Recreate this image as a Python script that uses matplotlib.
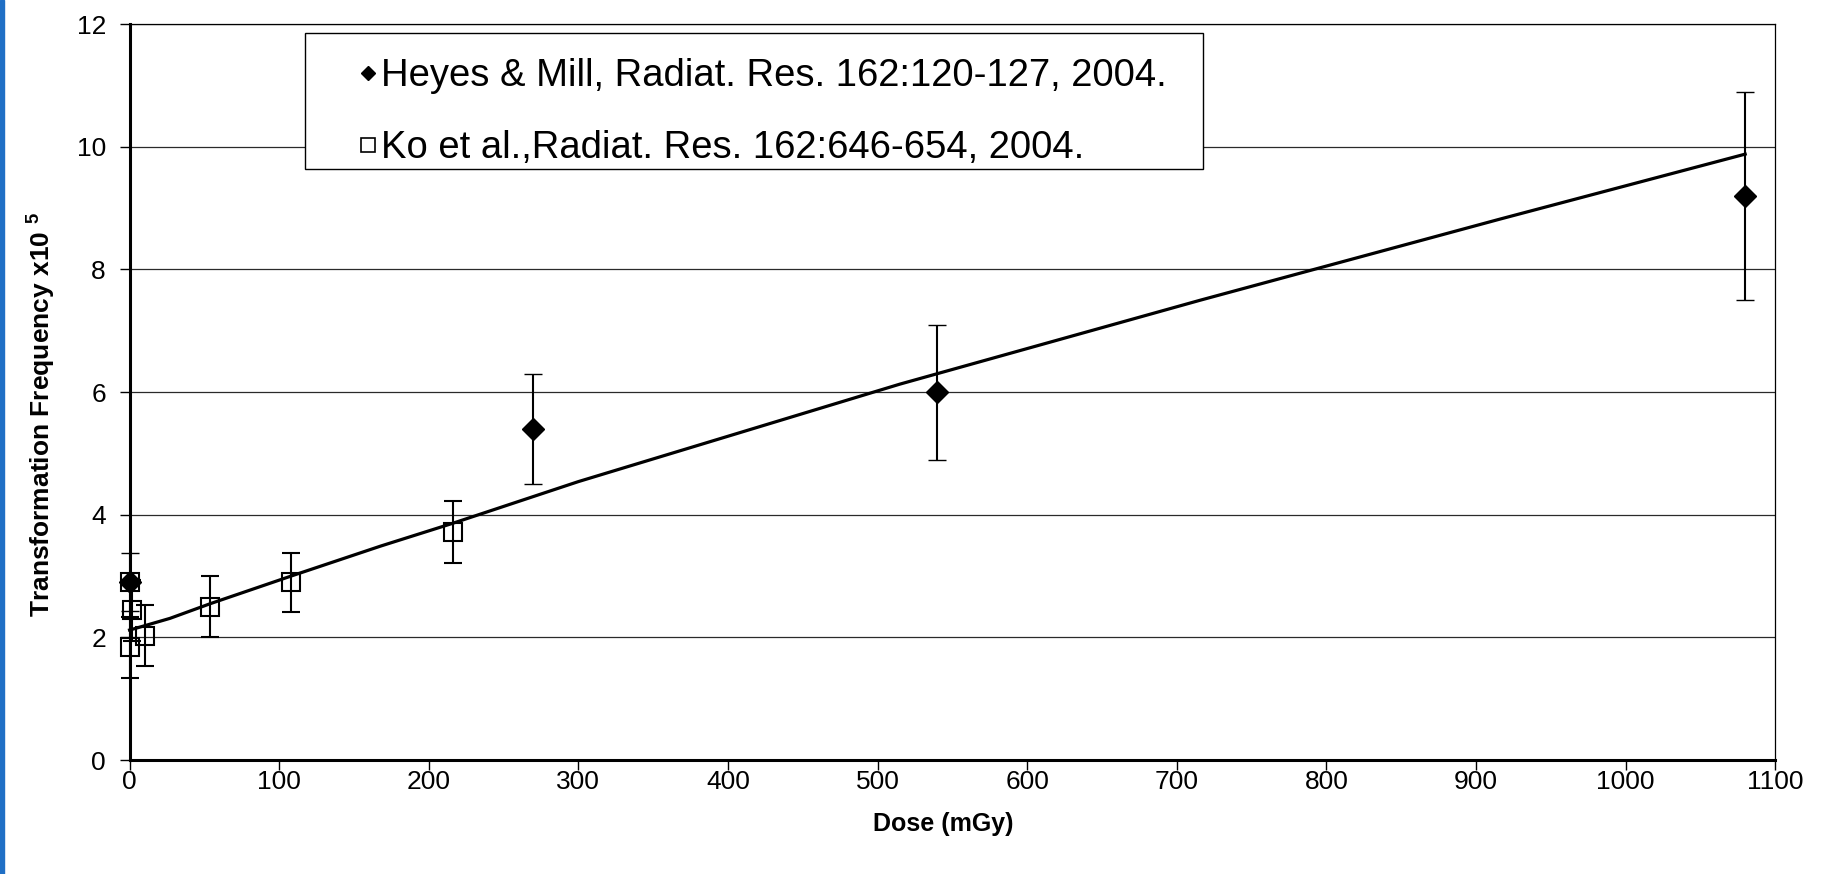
import matplotlib
matplotlib.use('Agg')
import matplotlib.pyplot as plt
from matplotlib.lines import Line2D
from matplotlib.patches import Rectangle

plt.rcParams['font.family'] = ['Liberation Sans', 'DejaVu Sans']
plt.rcParams['mathtext.fontset'] = 'custom'
plt.rcParams['mathtext.rm'] = 'Liberation Sans'
plt.rcParams['mathtext.bf'] = 'Liberation Sans:bold'

# ---- data ----
heyes_dose = [0, 270, 540, 1080]
heyes_tf = [2.9, 5.4, 6.0, 9.2]
heyes_err = [0.47, 0.9, 1.1, 1.7]

ko_dose = [0, 0, 1.9, 10, 54, 108, 216]
ko_tf = [1.84, 2.9, 2.44, 2.03, 2.5, 2.9, 3.72]
ko_err = [0.5, 0.0, 0.5, 0.5, 0.5, 0.48, 0.5]

fit_dose = [0, 3, 27, 54, 108, 168, 216, 300, 515, 716, 916, 1080]
fit_tf = [2.12, 2.14, 2.31, 2.55, 3.0, 3.49, 3.86, 4.54, 6.13, 7.5, 8.82, 9.88]

x_ticks = [0, 100, 200, 300, 400, 500, 600, 700, 800, 900, 1000, 1100]
y_ticks = [0, 2, 4, 6, 8, 10, 12]

heyes_label = 'Heyes & Mill, Radiat. Res. 162:120-127, 2004.'
ko_label = 'Ko et al.,Radiat. Res. 162:646-654, 2004.'

fig = plt.figure(figsize=(18.3, 8.74), dpi=100)
ax = fig.add_axes([0.0708, 0.1304, 0.8992, 0.8420])

ax.set_xlim(0, 1100)
ax.set_ylim(0, 12)
ax.set_xticks(x_ticks)
ax.set_yticks(y_ticks)

ax.grid(axis='y', color='#2a2a2a', lw=0.9, zorder=0)
ax.set_axisbelow(True)

ax.plot(fit_dose, fit_tf, color='black', lw=2.3, zorder=3, clip_on=False)

ax.errorbar(ko_dose, ko_tf, yerr=ko_err, fmt='s', ms=13, mfc='none', mec='black',
            mew=1.5, ecolor='black', elinewidth=1.5, capsize=6.8, capthick=1.5,
            zorder=4, clip_on=False)
ax.errorbar(heyes_dose, heyes_tf, yerr=heyes_err, fmt='D', ms=11, mfc='black', mec='black',
            mew=1, ecolor='black', elinewidth=1.5, capsize=6.8, capthick=1.5,
            zorder=5, clip_on=False)

for s in ['left', 'bottom']:
    ax.spines[s].set_linewidth(2.2)
for s in ['top', 'right']:
    ax.spines[s].set_linewidth(0.9)

ax.tick_params(axis='both', direction='out', length=7, width=1, labelsize=19)
ax.tick_params(axis='y', pad=10)
ax.tick_params(axis='x', pad=0.5)

ax.set_xlabel('Dose (mGy)', fontsize=18, fontweight='bold')
ax.set_ylabel(r'Transformation Frequency x10 $^{\mathbf{5}}$', fontsize=19, fontweight='bold')
ax.xaxis.set_label_coords(0.4945, -0.07)
ax.yaxis.set_label_coords(-0.044, 0.47)

# legend box
ax.add_patch(Rectangle((0.1067, 0.803), 0.5457, 0.185, transform=ax.transAxes,
                       facecolor='white', edgecolor='black', lw=1.0, zorder=9,
                       clip_on=False))

handles = [
    Line2D([], [], ls='none', marker='D', ms=7.5, mfc='black', mec='black'),
    Line2D([], [], ls='none', marker='s', ms=10, mfc='none', mec='black', mew=1.2),
]
leg = ax.legend(handles, [heyes_label, ko_label], loc='upper left',
                bbox_to_anchor=(0.117, 0.9538), borderaxespad=0, fontsize=27.5,
                frameon=False, handlelength=2.4,
                handletextpad=-0.85, labelspacing=0.94, borderpad=0)
leg.set_zorder(10)

fig.patches.append(Rectangle((0, 0), 4 / 1830, 1, transform=fig.transFigure,
                             color='#1f6fc5', zorder=20))

fig.savefig('out.png', dpi=100)
